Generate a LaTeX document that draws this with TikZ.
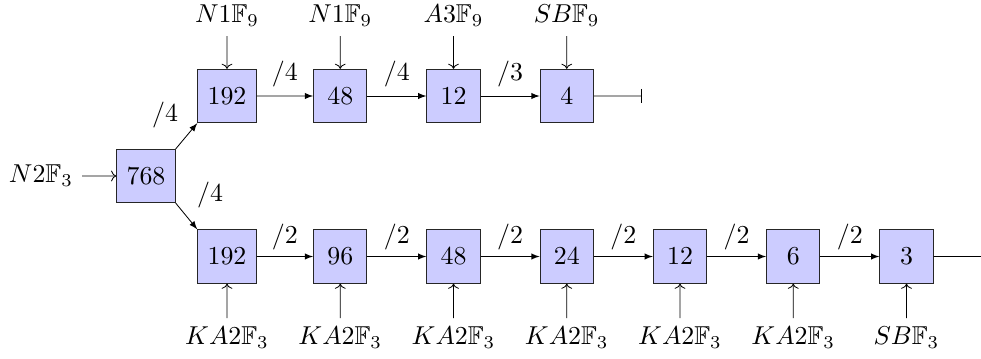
\documentclass[tikz,border=0pt]{standalone}
\usepackage{amssymb}
\usetikzlibrary{arrows.meta}
\begin{document}
\begin{tikzpicture}[x=0.4832pt,y=-0.4832pt,
  every node/.style={scale=1.25},
  blk/.style={draw=black!85,fill=blue!20,inner sep=3.8pt,minimum size=20.6pt},
  chain/.style={-latex},
  inp/.style={->},
  lbl/.style={inner sep=3.33pt}]
\useasboundingbox (0,0) rectangle (981,358);
% root
\node[blk] (r) at (146,176) {$768$};
\node[lbl,anchor=east] (rin) at (82,176) {$N2\mathbb{F}_3$};
\draw[inp] (rin) -- (r);
% top row
\node[blk] (t1) at (227,96) {$192$};
\node[blk] (t2) at (340.25,96) {$48$};
\node[blk] (t3) at (453.5,96) {$12$};
\node[blk] (t4) at (566.75,96) {$4$};
\coordinate (tend) at (642,96);
\node[lbl,anchor=south] (ti1) at (227,36) {$N1\mathbb{F}_9$};
\node[lbl,anchor=south] (ti2) at (340.25,36) {$N1\mathbb{F}_9$};
\node[lbl,anchor=south] (ti3) at (453.5,36) {$A3\mathbb{F}_9$};
\node[lbl,anchor=south] (ti4) at (566.75,36) {$SB\mathbb{F}_9$};
\foreach \i in {1,...,4}{\draw[inp] (ti\i) -- (t\i);}
\draw[chain] (t1) -- node[above] {$/4$} (t2);
\draw[chain] (t2) -- node[above] {$/4$} (t3);
\draw[chain] (t3) -- node[above] {$/3$} (t4);
\draw[-{Bar[width=7pt]}] (t4) -- (tend);
% bottom row
\node[blk] (b1) at (227,256.5) {$192$};
\node[blk] (b2) at (340.25,256.5) {$96$};
\node[blk] (b3) at (453.5,256.5) {$48$};
\node[blk] (b4) at (566.75,256.5) {$24$};
\node[blk] (b5) at (680,256.5) {$12$};
\node[blk] (b6) at (793.25,256.5) {$6$};
\node[blk] (b7) at (906.5,256.5) {$3$};
\coordinate (bend) at (981,256.5);
\node[lbl,anchor=north] (bi1) at (227,318) {$KA2\mathbb{F}_3$};
\node[lbl,anchor=north] (bi2) at (340.25,318) {$KA2\mathbb{F}_3$};
\node[lbl,anchor=north] (bi3) at (453.5,318) {$KA2\mathbb{F}_3$};
\node[lbl,anchor=north] (bi4) at (566.75,318) {$KA2\mathbb{F}_3$};
\node[lbl,anchor=north] (bi5) at (680,318) {$KA2\mathbb{F}_3$};
\node[lbl,anchor=north] (bi6) at (793.25,318) {$KA2\mathbb{F}_3$};
\node[lbl,anchor=north] (bi7) at (906.5,318) {$SB\mathbb{F}_3$};
\foreach \i in {1,...,7}{\draw[inp] (bi\i) -- (b\i);}
\foreach \i/\j in {1/2,2/3,3/4,4/5,5/6,6/7}{
  \draw[chain] (b\i) -- node[above,yshift=-1pt] {$/2$} (b\j);}
\draw (b7) -- (bend);
% diagonals
\draw[chain] (r.north east) -- node[midway,xshift=-8.3pt,yshift=8.1pt] {$/4$} (t1.south west);
\draw[chain] (r.south east) -- node[midway,xshift=9.1pt,yshift=8.3pt] {$/4$} (b1.north west);
\end{tikzpicture}
\end{document}
